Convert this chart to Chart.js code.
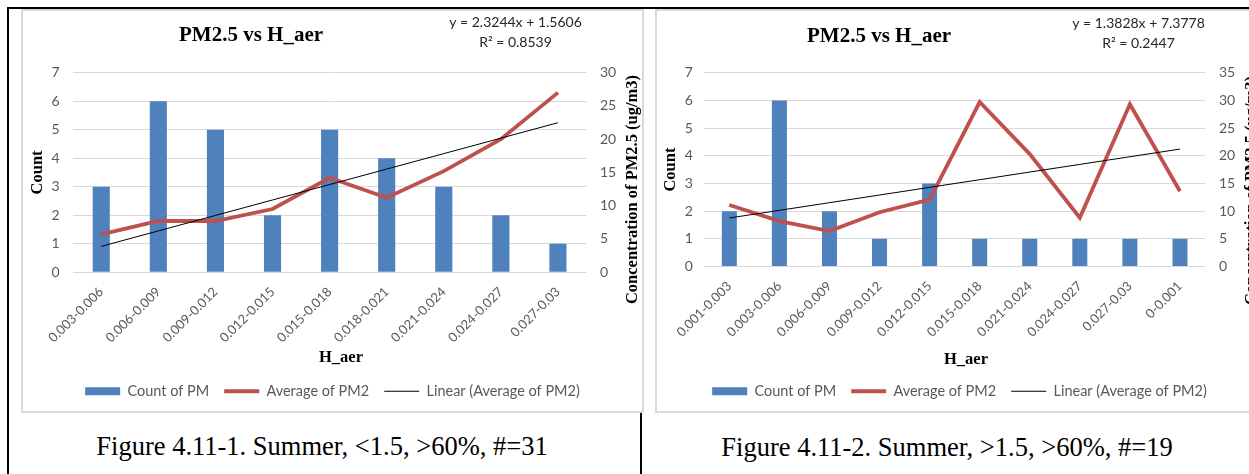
<!DOCTYPE html>
<html>
<head>
<meta charset="utf-8">
<script src="https://cdn.jsdelivr.net/npm/chart.js@4.4.1/dist/chart.umd.min.js"></script>
<style>
  html, body { margin: 0; padding: 0; background: #fff; overflow: hidden; width: 1249px; height: 474px; }
  .page { position: relative; width: 1249px; height: 474px; overflow: hidden; }
  .rule { position: absolute; background: #000; }
  .frame { position: absolute; border: 2px solid #d9d9d9; background: #fff; }
  .frame canvas { display: block; }
  .caption {
    position: absolute; white-space: nowrap; line-height: 1;
    font-family: "Liberation Serif", "Times New Roman", serif; font-size: 26.5px; color: #000;
    transform: translateX(-50%);
  }
</style>
</head>
<body>
<div class="page">
  <div class="frame" style="left:21px; top:9px; width:619px; height:400px;"><canvas id="chartLow" width="619" height="400"></canvas></div>
  <div class="frame" style="left:655px; top:9px; width:605px; height:400px;"><canvas id="chartHigh" width="605" height="400"></canvas></div>
  <div class="rule" style="left:7px; top:7px; width:1242px; height:2px;"></div>
  <div class="rule" style="left:7px; top:7px; width:2px; height:467px;"></div>
  <div class="rule" style="left:640px; top:413px; width:2px; height:61px;"></div>
  <div class="caption" style="left:322px; top:433px;">Figure 4.11-1. Summer, &lt;1.5, &gt;60%, #=31</div>
  <div class="caption" style="left:947px; top:434px;">Figure 4.11-2. Summer, &gt;1.5, &gt;60%, #=19</div>
</div>
<script>
// ---- Figure 4.11-1: Summer, H < 1.5, RH > 60% ----
const lowCategories = ['0.003-0.006', '0.006-0.009', '0.009-0.012', '0.012-0.015', '0.015-0.018',
                       '0.018-0.021', '0.021-0.024', '0.024-0.027', '0.027-0.03'];
const lowCounts = [3, 6, 5, 2, 5, 4, 3, 2, 1];
const lowAverages = [5.7, 7.7, 7.7, 9.5, 14.2, 11.2, 15.2, 20.0, 27.0];
const lowSlope = 2.3244;
const lowIntercept = 1.5606;
const lowR2 = '0.8539';

// ---- Figure 4.11-2: Summer, H > 1.5, RH > 60% ----
const highCategories = ['0.001-0.003', '0.003-0.006', '0.006-0.009', '0.009-0.012', '0.012-0.015',
                        '0.015-0.018', '0.021-0.024', '0.024-0.027', '0.027-0.03', '0-0.001'];
const highCounts = [2, 6, 2, 1, 3, 1, 1, 1, 1, 1];
const highAverages = [11.1, 8.2, 6.4, 9.8, 12.1, 29.7, 20.3, 8.8, 29.3, 13.6];
const highSlope = 1.3828;
const highIntercept = 7.3778;
const highR2 = '0.2447';

// Shared axis ranges
const countTicks = { min: 0, max: 7, step: 1 };
const lowConcTicks = { min: 0, max: 30, step: 5 };
const highConcTicks = { min: 0, max: 35, step: 5 };

const SANS = 'Lato, "Liberation Sans", sans-serif';
const SERIF = '"Liberation Serif", "Times New Roman", serif';
const TICK_GREY = '#595959';

// Free text drawn onto the canvas: titles, trend equation, axis titles.
const chartTexts = {
  id: 'chartTexts',
  afterDraw(chart, args, opts) {
    const ctx = chart.ctx;
    (opts.items || []).forEach(t => {
      ctx.save();
      ctx.font = t.font;
      ctx.fillStyle = t.color || '#000';
      ctx.textAlign = 'center';
      ctx.textBaseline = 'middle';
      ctx.translate(t.x, t.y);
      if (t.rotate) ctx.rotate(t.rotate);
      ctx.fillText(t.text, 0, 0);
      ctx.restore();
    });
  }
};

function fmt(v) { return v.toFixed(4); }

function buildChart(id, d) {
  const trend = d.categories.map((_, i) => d.slope * (i + 1) + d.intercept);
  return new Chart(document.getElementById(id), {
    type: 'bar',
    data: {
      labels: d.categories,
      datasets: [
        {
          type: 'bar', label: 'Count of PM', data: d.counts, yAxisID: 'y',
          backgroundColor: '#4f81bd', borderWidth: 0,
          barPercentage: 0.3, categoryPercentage: 1, order: 3
        },
        {
          type: 'line', label: 'Average of PM2', data: d.averages, yAxisID: 'y1',
          borderColor: '#c0504d', backgroundColor: '#c0504d', borderWidth: 3.8,
          pointRadius: 0, tension: 0, order: 2
        },
        {
          type: 'line', label: 'Linear (Average of PM2)', data: trend, yAxisID: 'y1',
          borderColor: '#000000', backgroundColor: '#000000', borderWidth: 1,
          pointRadius: 0, tension: 0, order: 1
        }
      ]
    },
    options: {
      responsive: false,
      animation: false,
      devicePixelRatio: 1,
      layout: { padding: { top: d.plotTop, left: 0, right: 0, bottom: 2.5 } },
      scales: {
        x: {
          offset: true,
          grid: { display: false, drawTicks: false },
          border: { display: false },
          ticks: {
            autoSkip: false, minRotation: 45, maxRotation: 45, padding: 12,
            color: TICK_GREY, font: { family: SANS, size: 13 }
          },
          afterFit: s => { s.height = d.xAxisHeight; }
        },
        y: {
          position: 'left',
          min: countTicks.min, max: countTicks.max,
          ticks: { stepSize: countTicks.step, padding: d.leftTickPad, color: TICK_GREY, font: { family: SANS, size: 14 } },
          grid: { color: '#d9d9d9', lineWidth: 1, drawTicks: false },
          border: { display: false },
          title: {
            display: true, text: 'Count', color: '#000',
            font: { family: SERIF, size: 16.5, weight: 'bold' },
            padding: { top: d.countTitlePad, bottom: 0 }
          },
          afterFit: s => { s.width = d.leftAxisWidth; }
        },
        y1: {
          position: 'right',
          min: d.conc.min, max: d.conc.max,
          ticks: { stepSize: d.conc.step, padding: d.rightTickPad, color: TICK_GREY, font: { family: SANS, size: 14 } },
          grid: { display: false, drawTicks: false },
          border: { display: false },
          afterFit: s => { s.width = d.rightAxisWidth; }
        }
      },
      plugins: {
        tooltip: { enabled: false },
        legend: {
          position: 'bottom',
          labels: {
            usePointStyle: true, pointStyleWidth: 35, boxHeight: 8, padding: 15,
            color: TICK_GREY, font: { family: SANS, size: 14.5 },
            generateLabels: chart => chart.data.datasets.map((ds, i) => ({
              text: ds.label,
              datasetIndex: i,
              fillStyle: ds.type === 'bar' ? ds.backgroundColor : ds.borderColor,
              strokeStyle: ds.type === 'bar' ? ds.backgroundColor : ds.borderColor,
              lineWidth: ds.type === 'bar' ? 0 : ds.borderWidth,
              pointStyle: ds.type === 'bar' ? 'rect' : 'line',
              fontColor: TICK_GREY,
              hidden: false
            }))
          }
        },
        chartTexts: {
          items: [
            { text: 'PM2.5 vs H_aer', x: d.titleX, y: d.titleY, font: 'bold 21px ' + SERIF },
            { text: 'y = ' + fmt(d.slope) + 'x + ' + fmt(d.intercept), x: d.eqX, y: d.eqY, font: '14px ' + SANS, color: '#262626' },
            { text: 'R\u00B2 = ' + d.r2, x: d.eqX, y: d.eqY + 20, font: '14px ' + SANS, color: '#262626' },
            { text: 'H_aer', x: d.xTitleX, y: d.xTitleY, font: 'bold 16.5px ' + SERIF },
            { text: 'Concentration of PM2.5 (ug/m3)', x: d.concTitleX, y: d.concTitleY,
              font: 'bold 16.5px ' + SERIF, rotate: -Math.PI / 2 }
          ]
        }
      }
    },
    plugins: [chartTexts]
  });
}

buildChart('chartLow', {
  categories: lowCategories, counts: lowCounts, averages: lowAverages,
  slope: lowSlope, intercept: lowIntercept, r2: lowR2, conc: lowConcTicks,
  plotTop: 61.7, xAxisHeight: 96.8, leftAxisWidth: 49.7, rightAxisWidth: 55.5,
  leftTickPad: 13, rightTickPad: 13.5, countTitlePad: 4.4,
  titleX: 228, titleY: 25, eqX: 492.5, eqY: 11,
  xTitleX: 318, xTitleY: 347, concTitleX: 610, concTitleY: 178.5
});

buildChart('chartHigh', {
  categories: highCategories, counts: highCounts, averages: highAverages,
  slope: highSlope, intercept: highIntercept, r2: highR2, conc: highConcTicks,
  plotTop: 61.7, xAxisHeight: 102.5, leftAxisWidth: 47.3, rightAxisWidth: 57,
  leftTickPad: 11.5, rightTickPad: 14, countTitlePad: 3.4,
  titleX: 222, titleY: 26, eqX: 481.5, eqY: 12,
  xTitleX: 309, xTitleY: 349, concTitleX: 595, concTitleY: 179.5
});
</script>
</body>
</html>
